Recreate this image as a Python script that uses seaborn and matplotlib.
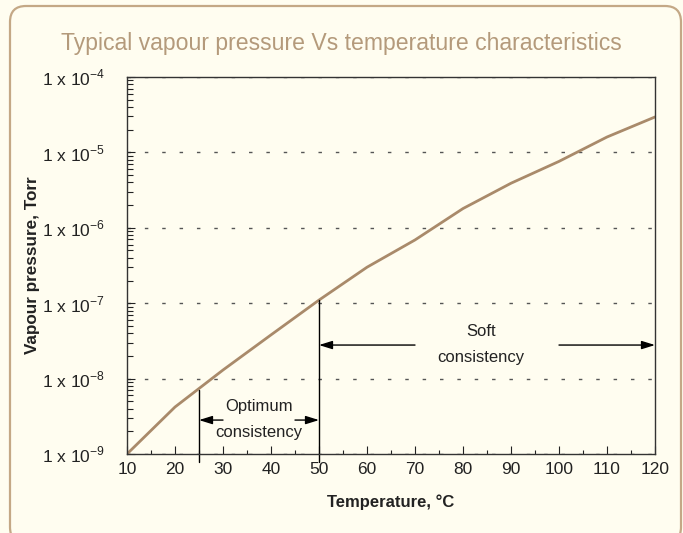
import numpy as np
import pandas as pd
import seaborn as sns
import matplotlib.pyplot as plt
from matplotlib.patches import FancyBboxPatch
from matplotlib.ticker import FixedLocator, LogLocator, NullFormatter

# values
temperature = [10, 20, 30, 40, 50, 60, 70, 80, 90, 100, 110, 120]
pressure = [1.0e-9, 4.2e-9, 1.3e-8, 3.8e-8, 1.1e-7, 3.0e-7, 6.9e-7, 1.8e-6,
            3.9e-6, 7.6e-6, 1.6e-5, 2.95e-5]
x_ticks = list(range(10, 121, 10))
y_exponents = [-9, -8, -7, -6, -5, -4]
optimum_range = (25, 50)
soft_range = (50, 120)

df = pd.DataFrame({"temperature": temperature, "pressure": pressure})

sns.set_style("ticks")
plt.rcParams["font.family"] = ["Liberation Sans", "DejaVu Sans"]
plt.rcParams["mathtext.fontset"] = "custom"
plt.rcParams["mathtext.rm"] = "Liberation Sans"

bg = "#fffdf0"
tan = "#a98a6a"
ink = "#222222"

fig = plt.figure(figsize=(6.83, 5.33), dpi=100, facecolor=bg)
ax = fig.add_axes([127 / 683, 1 - 454 / 533, 528 / 683, 377 / 533])
ax.set_facecolor(bg)

# rounded frame around the whole chart
frame = FancyBboxPatch((0.10, -0.10), 6.71, 5.37,
                       boxstyle="round,pad=0,rounding_size=0.16",
                       transform=fig.dpi_scale_trans, facecolor="none",
                       edgecolor="#c4a886", linewidth=1.6)
fig.patches.append(frame)

fig.text(0.5, 1 - 50 / 533, "Typical vapour pressure Vs temperature characteristics",
         ha="center", va="baseline", fontsize=16.6, color="#b49a7b")

sns.lineplot(data=df, x="temperature", y="pressure", ax=ax, color=tan, lw=2)

ax.set_yscale("log")
ax.set_xlim(10, 120)
ax.set_ylim(1e-9, 1e-4)

ax.xaxis.set_major_locator(FixedLocator(x_ticks))
ax.xaxis.set_minor_locator(FixedLocator([t + 5 for t in x_ticks[:-1]]))
ax.set_yticks([10.0 ** e for e in y_exponents])
ax.set_yticklabels([r"1 x 10$^{\mathregular{%d}}$" % e for e in y_exponents])
ax.yaxis.set_minor_locator(LogLocator(base=10, subs=np.arange(2, 10)))
ax.yaxis.set_minor_formatter(NullFormatter())

ax.tick_params(axis="both", which="both", direction="in", color=ink,
               labelsize=12.5, labelcolor=ink)
ax.tick_params(axis="x", which="major", length=6, width=0.8, pad=6)
ax.tick_params(axis="x", which="minor", length=3, width=0.8)
ax.tick_params(axis="y", which="major", length=6, width=0.8, pad=16)
ax.tick_params(axis="y", which="minor", length=4, width=0.8)

for side in ["top", "right", "left", "bottom"]:
    ax.spines[side].set_visible(True)
    ax.spines[side].set_color("#333333")
    ax.spines[side].set_linewidth(1)

ax.yaxis.grid(True, which="major", color="#555555", lw=1, ls=(0, (2.5, 10)))
ax.xaxis.grid(False)

ax.set_xlabel("Temperature, °C", fontsize=12, fontweight="bold", color=ink, labelpad=12)
ax.set_ylabel("Vapour pressure, Torr", fontsize=12.3, fontweight="bold", color=ink, labelpad=1)

# range markers
log_p = np.log10(pressure)
trans = ax.get_xaxis_transform()
for t in optimum_range:
    top = 10 ** np.interp(t, temperature, log_p)
    top_frac = (np.log10(top) + 9) / 5
    ax.plot([t, t], [-0.022, top_frac - (0.005 if t == 25 else 0)], transform=trans,
            color="black", lw=1, clip_on=False)

arrow = dict(arrowstyle="-|>,head_length=0.8,head_width=0.25", color="black",
             lw=1, shrinkA=0, shrinkB=0)

def range_label(lo, hi, y, gap_lo, gap_hi, text, text_x, y_top, y_bot):
    ax.annotate("", xy=(lo, y), xytext=(gap_lo, y), xycoords=trans,
                textcoords=trans, arrowprops=arrow)
    ax.annotate("", xy=(hi, y), xytext=(gap_hi, y), xycoords=trans,
                textcoords=trans, arrowprops=arrow)
    first, second = text
    ax.text(text_x, y_top, first, transform=trans, ha="center", va="center",
            fontsize=12, color=ink)
    ax.text(text_x, y_bot, second, transform=trans, ha="center", va="center",
            fontsize=12, color=ink)

range_label(optimum_range[0], optimum_range[1], 0.090, 30, 45,
            ("Optimum", "consistency"), 37.5, 0.125, 0.056)
range_label(soft_range[0], soft_range[1], 0.289, 70, 100,
            ("Soft", "consistency"), 83.8, 0.326, 0.257)

fig.savefig("out.png", dpi=100, facecolor=bg)
